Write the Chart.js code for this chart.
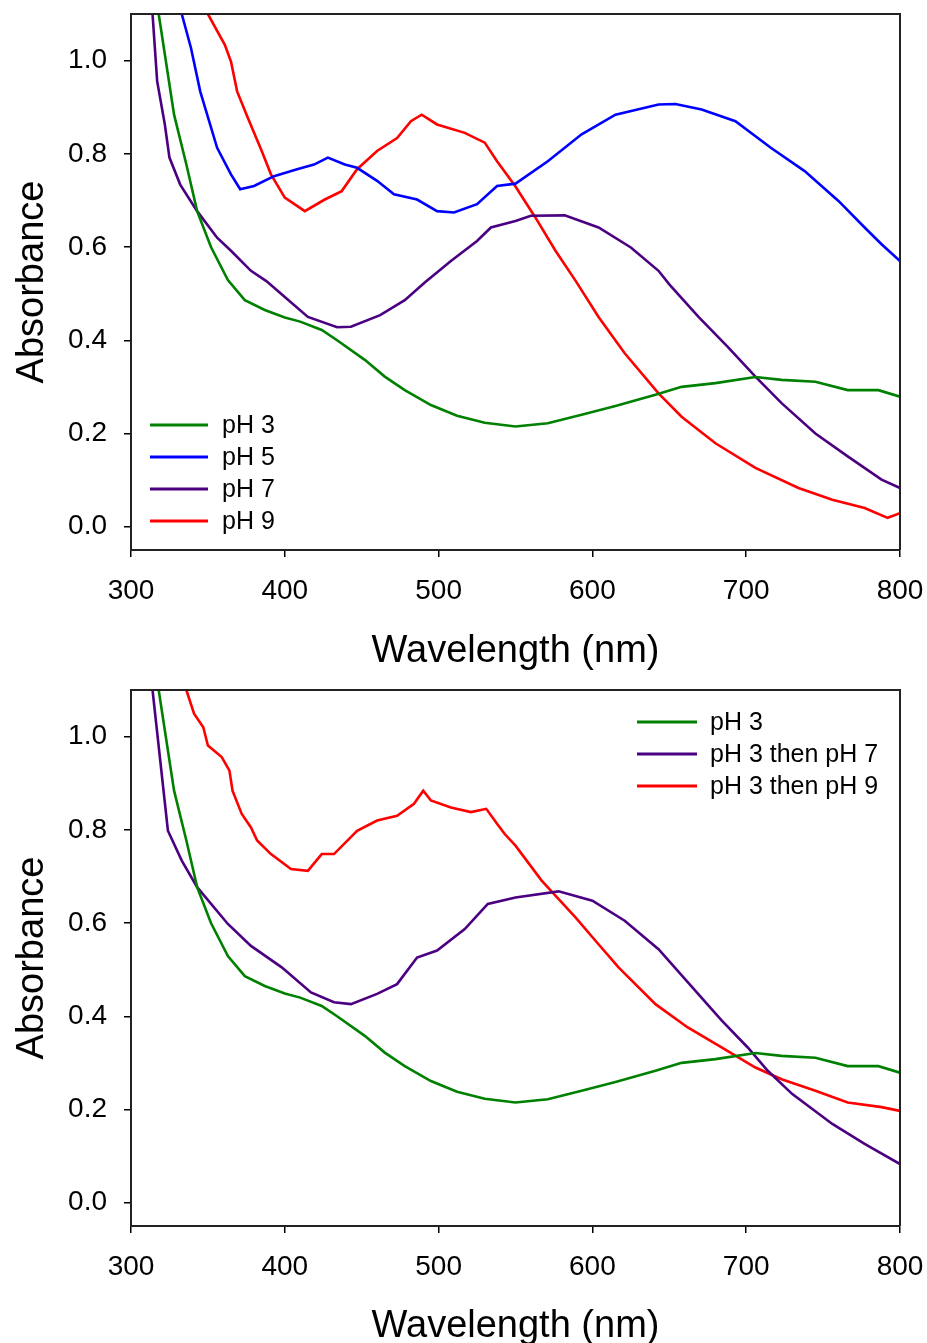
<!DOCTYPE html>
<html>
<head>
<meta charset="utf-8">
<script src="https://cdn.jsdelivr.net/npm/chart.js@4.4.1/dist/chart.umd.min.js"></script>
<style>
body { margin: 0; background: #fff; overflow: hidden; }
canvas { position: absolute; left: 0; }
#chart-top { top: 0; }
#chart-bottom { top: 672px; }
</style>
</head>
<body>
<canvas id="chart-top" width="927" height="674"></canvas>
<canvas id="chart-bottom" width="927" height="677"></canvas>
<script>
// axis ticks
const xTicks = [300, 400, 500, 600, 700, 800];
const yTicks = [0, 0.2, 0.4, 0.6, 0.8, 1.0];

// pH 3 (same spectrum in both panels)
const ph3Wl  = [318, 328, 336, 343, 352, 363, 374, 387, 400, 410, 424, 434, 452, 465, 478, 495, 512, 530, 550, 571, 593, 615, 641, 658, 680, 706, 723, 745, 766, 786, 800];
const ph3Abs = [1.10, 0.884, 0.777, 0.677, 0.600, 0.529, 0.486, 0.465, 0.449, 0.440, 0.422, 0.400, 0.358, 0.322, 0.293, 0.261, 0.238, 0.223, 0.215, 0.222, 0.240, 0.259, 0.283, 0.300, 0.308, 0.321, 0.315, 0.311, 0.293, 0.293, 0.279];

// pH 5
const ph5Wl  = [333, 339, 345, 356, 365, 371, 380, 393, 408, 419, 428, 439, 447, 460, 471, 486, 499, 510, 525, 538, 550, 571, 593, 615, 643, 654, 671, 693, 716, 738, 760, 777, 788, 800];
const ph5Abs = [1.10, 1.027, 0.934, 0.813, 0.756, 0.724, 0.731, 0.752, 0.767, 0.777, 0.792, 0.777, 0.770, 0.742, 0.713, 0.702, 0.677, 0.674, 0.692, 0.731, 0.736, 0.784, 0.842, 0.884, 0.906, 0.907, 0.895, 0.870, 0.813, 0.763, 0.699, 0.642, 0.606, 0.570];

// pH 7
const ph7Wl  = [314, 317, 322, 325, 332, 343, 356, 365, 378, 388, 400, 415, 434, 443, 462, 478, 491, 508, 525, 534, 550, 560, 582, 604, 625, 643, 650, 669, 688, 706, 723, 745, 766, 788, 800];
const ph7Abs = [1.10, 0.956, 0.863, 0.792, 0.734, 0.677, 0.620, 0.592, 0.549, 0.527, 0.493, 0.450, 0.428, 0.429, 0.454, 0.486, 0.524, 0.570, 0.613, 0.642, 0.656, 0.667, 0.668, 0.642, 0.599, 0.549, 0.520, 0.450, 0.386, 0.322, 0.265, 0.200, 0.151, 0.101, 0.083];

// pH 9
const ph9Wl  = [350, 361, 365, 369, 376, 385, 391, 400, 413, 426, 437, 447, 460, 473, 482, 489, 499, 517, 530, 538, 550, 563, 576, 589, 604, 621, 643, 658, 680, 706, 734, 756, 777, 792, 800];
const ph9Abs = [1.10, 1.034, 0.998, 0.934, 0.877, 0.806, 0.756, 0.706, 0.677, 0.702, 0.720, 0.767, 0.806, 0.834, 0.870, 0.884, 0.863, 0.845, 0.824, 0.784, 0.730, 0.663, 0.592, 0.528, 0.450, 0.372, 0.286, 0.236, 0.179, 0.126, 0.083, 0.058, 0.040, 0.019, 0.029];

// pH 3 then pH 7
const ph3to7Wl  = [314, 324, 333, 343, 363, 378, 398, 417, 432, 443, 460, 473, 486, 499, 517, 532, 550, 578, 600, 621, 643, 665, 684, 701, 714, 730, 756, 777, 800];
const ph3to7Abs = [1.10, 0.798, 0.734, 0.677, 0.598, 0.551, 0.505, 0.451, 0.430, 0.426, 0.448, 0.469, 0.526, 0.541, 0.587, 0.641, 0.655, 0.668, 0.648, 0.605, 0.544, 0.462, 0.391, 0.333, 0.283, 0.233, 0.169, 0.126, 0.083];

// pH 3 then pH 9
const ph3to9Wl  = [336, 341, 347, 350, 359, 364, 366, 372, 378, 382, 391, 404, 415, 424, 432, 447, 460, 473, 484, 490, 495, 508, 521, 531, 538, 543, 550, 567, 589, 602, 617, 641, 662, 684, 706, 723, 745, 766, 788, 800];
const ph3to9Abs = [1.10, 1.049, 1.020, 0.981, 0.956, 0.927, 0.884, 0.834, 0.805, 0.777, 0.748, 0.716, 0.712, 0.748, 0.748, 0.798, 0.820, 0.830, 0.856, 0.884, 0.863, 0.848, 0.838, 0.845, 0.813, 0.791, 0.766, 0.691, 0.612, 0.562, 0.505, 0.426, 0.376, 0.333, 0.290, 0.265, 0.240, 0.215, 0.205, 0.197];

const GREEN = '#008000', BLUE = '#0000ff', PURPLE = '#4b0082', RED = '#ff0000';
const FONT = "'Liberation Sans', Arial, sans-serif";

Chart.defaults.font.family = FONT;
Chart.defaults.color = '#000';

const pts = (wl, abs) => wl.map((x, i) => ({ x: x, y: abs[i] }));

const line = (label, wl, abs, color) => ({
    label: label,
    data: pts(wl, abs),
    borderColor: color,
    backgroundColor: color,
    borderWidth: 2.6,
    pointRadius: 0,
    tension: 0,
    fill: false,
});

// box round the plot (top and right edges)
const frame = {
    id: 'frame',
    afterDraw(chart) {
        const a = chart.chartArea, ctx = chart.ctx;
        ctx.save();
        ctx.strokeStyle = '#222';
        ctx.lineWidth = 2;
        ctx.beginPath();
        ctx.moveTo(a.left, a.top);
        ctx.lineTo(a.right, a.top);
        ctx.lineTo(a.right, a.bottom);
        ctx.stroke();
        ctx.restore();
    }
};

// legend drawn inside the plot
const insideLegend = {
    id: 'insideLegend',
    afterDraw(chart, args, opts) {
        const ctx = chart.ctx;
        ctx.save();
        ctx.font = '25px ' + FONT;
        ctx.textBaseline = 'middle';
        ctx.textAlign = 'left';
        ctx.fillStyle = '#000';
        chart.data.datasets.forEach((ds, i) => {
            const y = opts.y + i * opts.rowH;
            ctx.strokeStyle = ds.borderColor;
            ctx.lineWidth = 3;
            ctx.beginPath();
            ctx.moveTo(opts.x, y);
            ctx.lineTo(opts.x + opts.lineLen, y);
            ctx.stroke();
            ctx.fillText(ds.label, opts.textX, y + 1);
        });
        ctx.restore();
    }
};

function makeOptions(padTop, xHeight, legend) {
    return {
        responsive: false,
        animation: false,
        layout: { padding: { top: padTop, right: 27, left: 0, bottom: 0 } },
        scales: {
            x: {
                type: 'linear',
                min: 300,
                max: 800,
                afterBuildTicks: (s) => { s.ticks = xTicks.map(v => ({ value: v })); },
                afterFit: (s) => { s.height = xHeight; s.paddingLeft = 0; s.paddingRight = 0; },
                ticks: { font: { size: 28 }, color: '#000', padding: 17, maxRotation: 0, autoSkip: false },
                grid: { drawOnChartArea: false, drawTicks: true, tickLength: 7, color: '#000', lineWidth: 1.5 },
                border: { display: true, color: '#222', width: 2 },
                title: { display: true, text: 'Wavelength (nm)', font: { size: 38 }, color: '#000', padding: { top: 0, bottom: 0 } },
            },
            y: {
                type: 'linear',
                min: -0.05,
                max: 1.1,
                afterBuildTicks: (s) => { s.ticks = yTicks.map(v => ({ value: v })); },
                afterFit: (s) => { s.width = 131; s.paddingTop = 0; s.paddingBottom = 0; },
                ticks: { font: { size: 28 }, color: '#000', padding: 17, callback: (v) => v.toFixed(1) },
                grid: { drawOnChartArea: false, drawTicks: true, tickLength: 7, color: '#000', lineWidth: 1.5 },
                border: { display: true, color: '#222', width: 2 },
                title: { display: true, text: 'Absorbance', font: { size: 38 }, color: '#000', padding: { top: 10, bottom: 0 } },
            }
        },
        plugins: {
            legend: { display: false },
            tooltip: { enabled: false },
            insideLegend: legend,
        },
    };
}

const chartTop = new Chart(document.getElementById('chart-top'), {
    type: 'line',
    data: {
        datasets: [
            line('pH 3', ph3Wl, ph3Abs, GREEN),
            line('pH 5', ph5Wl, ph5Abs, BLUE),
            line('pH 7', ph7Wl, ph7Abs, PURPLE),
            line('pH 9', ph9Wl, ph9Abs, RED),
        ]
    },
    options: makeOptions(14, 124, { x: 150, lineLen: 58, textX: 222, y: 425, rowH: 32 }),
    plugins: [frame, insideLegend]
});

const chartBottom = new Chart(document.getElementById('chart-bottom'), {
    type: 'line',
    data: {
        datasets: [
            line('pH 3', ph3Wl, ph3Abs, GREEN),
            line('pH 3 then pH 7', ph3to7Wl, ph3to7Abs, PURPLE),
            line('pH 3 then pH 9', ph3to9Wl, ph3to9Abs, RED),
        ]
    },
    options: makeOptions(18, 123, { x: 637, lineLen: 60, textX: 710, y: 50, rowH: 32 }),
    plugins: [frame, insideLegend]
});
</script>
</body>
</html>
